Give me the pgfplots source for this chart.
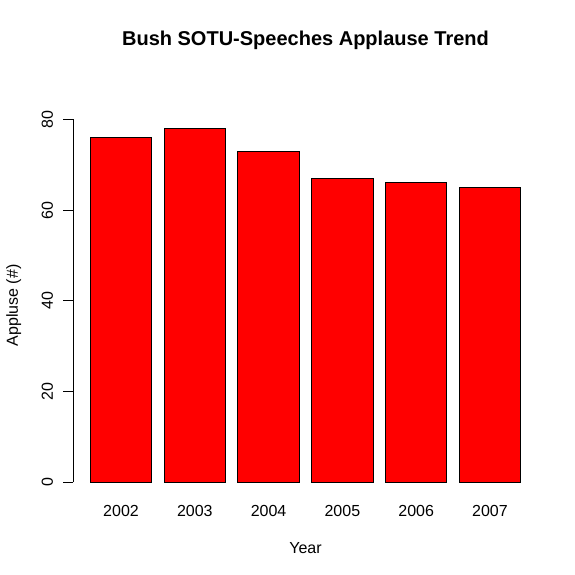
\documentclass[border=0pt]{standalone}
\usepackage{fontspec}
\setmainfont{Liberation Sans}
\usepackage{pgfplots}
\pgfplotsset{compat=1.18}

\begin{document}
\begin{tikzpicture}
  % 1px = 0.75pt; picture is 575 x 574 px
  \path[use as bounding box] (-54.8pt,-58.1pt) rectangle (376.4pt,372.4pt);
  \begin{axis}[
      at={(0,0)}, anchor=south west,
      scale only axis,
      width=348.6pt, height=286.7pt,
      xmin=-0.08, xmax=7.48,
      ymin=-3.12, ymax=81.12,
      axis lines*=left,
      axis line style={draw=none},
      tick align=outside,
      major tick length=7.2pt,
      xtick=data,
      xticklabels={2002,2003,2004,2005,2006,2007},
      xtick style={draw=none},
      ytick={0,20,40,60,80},
      ytick style={black, line width=0.75pt},
      /pgf/number format/assume math mode=true,
      tick label style={font=\fontsize{12}{14}\selectfont},
      xticklabel style={anchor=base, yshift=-8pt},
      yticklabel style={rotate=90, anchor=base, yshift=7.9pt},
      label style={font=\fontsize{12}{14}\selectfont},
      xlabel={Year},
      ylabel={Appluse (\#)},
      xlabel style={at={(axis description cs:0.5,0)}, anchor=base, yshift=-42.6pt},
      ylabel style={at={(axis description cs:0,0.5)}, anchor=base, yshift=41.3pt},
      title={Bush SOTU-Speeches Applause Trend},
      title style={font=\fontsize{15}{18}\selectfont\bfseries,
                   at={(axis description cs:0.5,1)}, anchor=base, yshift=45.6pt},
      clip=false,
    ]
    \addplot[ybar, bar width=1, fill=red, draw=black, line width=0.75pt]
      coordinates {
        (0.7,76)
        (1.9,78)
        (3.1,73)
        (4.3,67)
        (5.5,66)
        (6.7,65)
      };
    \draw[black, line width=0.75pt] (axis cs:-0.08,0) -- (axis cs:-0.08,80);
  \end{axis}
\end{tikzpicture}
\end{document}
